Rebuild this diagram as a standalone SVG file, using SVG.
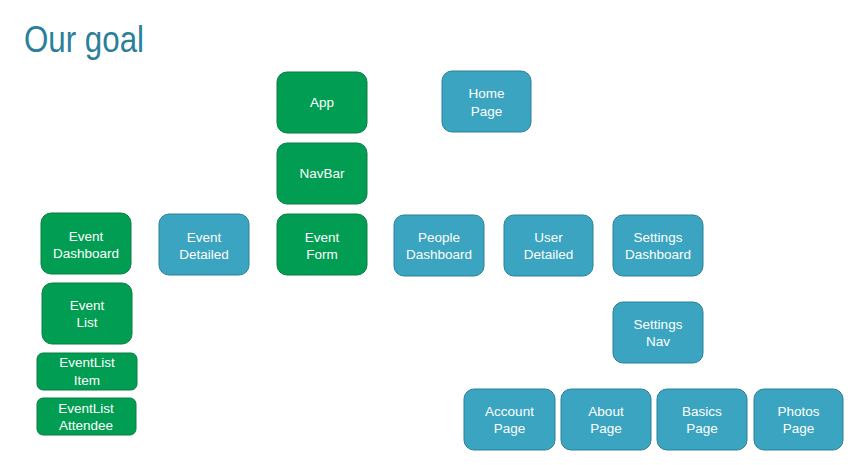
<svg xmlns="http://www.w3.org/2000/svg" width="850" height="465" viewBox="0 0 850 465">
<style>
.g{fill:#009d52;stroke:#0b7f45;stroke-width:1}
.b{fill:#3aa4c1;stroke:#2b8199;stroke-width:1}
.t{font-family:"Liberation Sans",Arial,sans-serif;font-size:13.5px;fill:#ffffff;text-anchor:middle}
.title{font-family:"Liberation Sans",Arial,sans-serif;font-size:36px;fill:#2a7f9a}
</style>
<rect width="850" height="465" fill="#ffffff"/>
<text class="title" x="24" y="52" textLength="120" lengthAdjust="spacingAndGlyphs">Our goal</text>
<g id="app"><rect class="g" x="277" y="72" width="90" height="61" rx="10"/><text class="t" x="322" y="107">App</text></g>
<g id="navbar"><rect class="g" x="277" y="143" width="90" height="61" rx="10"/><text class="t" x="322" y="178">NavBar</text></g>
<g id="event-form"><rect class="g" x="277" y="214" width="90" height="61" rx="10"/><text class="t" x="322" y="242">Event</text><text class="t" x="322" y="259">Form</text></g>
<g id="event-dashboard"><rect class="g" x="41" y="213" width="90" height="61" rx="10"/><text class="t" x="86" y="241">Event</text><text class="t" x="86" y="258">Dashboard</text></g>
<g id="event-list"><rect class="g" x="42" y="283" width="90" height="61" rx="10"/><text class="t" x="87" y="310">Event</text><text class="t" x="87" y="327">List</text></g>
<g id="eventlist-item"><rect class="g" x="37" y="353" width="100" height="37" rx="6"/><text class="t" x="87" y="367">EventList</text><text class="t" x="87" y="385">Item</text></g>
<g id="eventlist-attendee"><rect class="g" x="37" y="398" width="99" height="37" rx="6"/><text class="t" x="86" y="413">EventList</text><text class="t" x="86" y="430">Attendee</text></g>
<g id="event-detailed"><rect class="b" x="159" y="214" width="90" height="61" rx="10"/><text class="t" x="204" y="242">Event</text><text class="t" x="204" y="259">Detailed</text></g>
<g id="home-page"><rect class="b" x="442" y="71" width="89" height="61" rx="10"/><text class="t" x="486.5" y="98">Home</text><text class="t" x="486.5" y="116">Page</text></g>
<g id="people-dashboard"><rect class="b" x="394" y="215" width="90" height="61" rx="10"/><text class="t" x="439" y="242">People</text><text class="t" x="439" y="259">Dashboard</text></g>
<g id="user-detailed"><rect class="b" x="504" y="215" width="89" height="61" rx="10"/><text class="t" x="548.5" y="242">User</text><text class="t" x="548.5" y="259">Detailed</text></g>
<g id="settings-dashboard"><rect class="b" x="613" y="215" width="90" height="61" rx="10"/><text class="t" x="658" y="242">Settings</text><text class="t" x="658" y="259">Dashboard</text></g>
<g id="settings-nav"><rect class="b" x="613" y="302" width="90" height="61" rx="10"/><text class="t" x="658" y="329">Settings</text><text class="t" x="658" y="346">Nav</text></g>
<g id="account-page"><rect class="b" x="464" y="389" width="91" height="61" rx="10"/><text class="t" x="509.5" y="416">Account</text><text class="t" x="509.5" y="433">Page</text></g>
<g id="about-page"><rect class="b" x="561" y="389" width="90" height="61" rx="10"/><text class="t" x="606" y="416">About</text><text class="t" x="606" y="433">Page</text></g>
<g id="basics-page"><rect class="b" x="657" y="389" width="90" height="61" rx="10"/><text class="t" x="702" y="416">Basics</text><text class="t" x="702" y="433">Page</text></g>
<g id="photos-page"><rect class="b" x="754" y="389" width="89" height="61" rx="10"/><text class="t" x="798.5" y="416">Photos</text><text class="t" x="798.5" y="433">Page</text></g>
<g id="connectors"></g>
</svg>
